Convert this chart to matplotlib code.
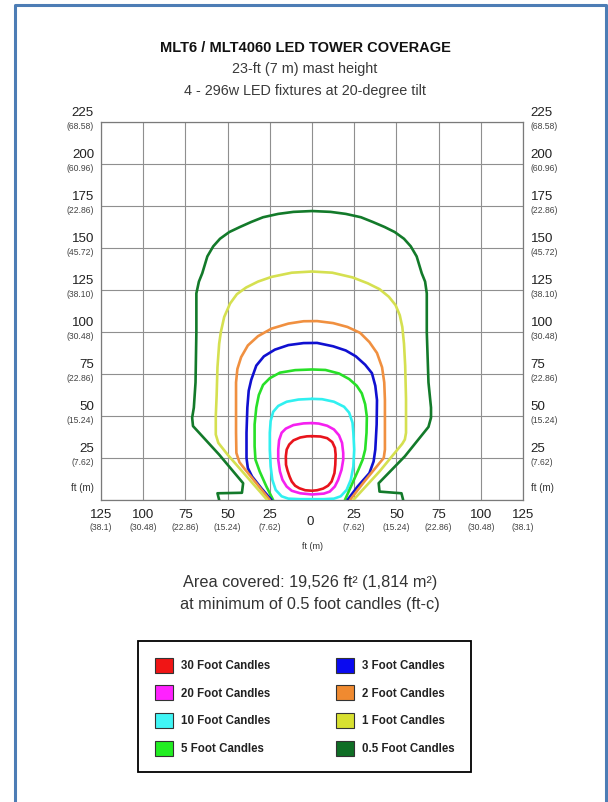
import matplotlib
matplotlib.use("Agg")
import matplotlib.pyplot as plt
from matplotlib.patches import Patch
from matplotlib.lines import Line2D

plt.rcParams['font.family'] = ['Liberation Sans', 'DejaVu Sans']

# ---------------- data (feet) ----------------
levels = ["30 Foot Candles", "20 Foot Candles", "10 Foot Candles", "5 Foot Candles",
          "3 Foot Candles", "2 Foot Candles", "1 Foot Candles", "0.5 Foot Candles"]
line_colors = ["#e8141c", "#f520f0", "#30f0f0", "#28e028",
               "#1010d0", "#f09040", "#d5e050", "#137a2a"]
legend_colors = ["#f01515", "#ff22ff", "#40f5f5", "#22ee22",
                 "#0a0af0", "#f08a30", "#d8e030", "#0f6e25"]

fc30_x = [0, 5, 9, 12, 13.6, 14, 13.8, 13.3, 11.6, 9.5, 6.6, 3, 0, -4, -7.5, -10, -12, -13.3,
          -14.5, -15.4, -15.5, -15, -13.5, -11, -7, -3, 0]
fc30_y = [38, 37.8, 36.8, 34.5, 31, 27, 21, 16, 11, 8.5, 6.8, 5.8, 5.5, 5.8, 7, 8.5, 11, 14,
          17.5, 21, 26, 30, 33, 35.5, 37.2, 37.9, 38]

fc20_x = [0, -5, -11, -15.5, -18, -19.5, -20, -20, -19, -17.5, -15, -12, -7, 0, 7, 10.5, 13.5,
          15.5, 17.5, 18.5, 18.5, 17.8, 16, 13, 9, 4, 0]
fc20_y = [45.8, 45.6, 44.6, 42.5, 40, 35.5, 30, 24, 17, 12, 8, 5.5, 4, 3.3, 3.8, 5, 8,
          12, 18, 24, 28, 34, 38.5, 42, 44.2, 45.5, 45.8]

fc10_x = [0, -8, -15, -20, -23, -24.5, -25, -25, -24.5, -23.5, -21.5, -18, -14, -7, 0, 7, 13,
          17, 20.5, 23, 24.5, 25, 24.5, 24, 22, 19, 13, 6, 0]
fc10_y = [60.2, 59.8, 58.5, 56, 52.5, 47, 40, 30, 20, 12, 6, 2.2, 0.8, 0.5, 0.5, 0.5, 0.8,
          2.2, 6, 12, 20, 30, 40, 46, 52, 55.5, 58.5, 60, 60.2]

fc5_x = [-23, -27, -31, -33.5, -34, -34, -33, -31.5, -29, -25, -19, -10, 0, 8, 16, 22, 26.5,
         29.5, 31.5, 32.5, 32.3, 31.5, 30, 27.5, 19.5]
fc5_y = [0, 8, 17, 24, 32, 45, 55, 62.5, 68.5, 72.5, 75.8, 77.3, 77.7, 77.4, 75.3, 72, 68,
         63.5, 57, 49.5, 40, 30, 24, 18, 0]

fc3_x = [-24, -30, -35.5, -38, -38.8, -38.8, -38.3, -37.5, -36, -33, -28.5, -22, -14, -5, 3,
         12.5, 20, 26, 31.5, 35.5, 37.5, 38.5, 38.3, 37.5, 36.5, 34, 27, 21]
fc3_y = [0, 7, 14, 19, 25, 40, 55, 65, 71.5, 80, 85.5, 89.5, 92.2, 93.4, 93.5,
         91.5, 89, 85.5, 80.5, 75.5, 68, 59.5, 45, 30, 23, 16, 8, 0]

fc2_x = [-25, -33, -39.5, -43, -44.8, -45, -45, -45, -44.2, -42, -38, -32, -24, -14, -5, 3,
         12.5, 21, 28.5, 34, 38.5, 41.5, 42.8, 43.2, 43.2, 42.5, 40, 31, 22.5]
fc2_y = [0, 10, 18, 22.5, 28, 40, 60, 70, 78, 85, 92, 97.5, 102, 105, 106.4, 106.5,
         105.3, 103, 99.5, 94, 87.5, 79, 70, 59.5, 30, 25, 22, 11, 0]

fc1_x = [-26.5, -40, -50, -55.5, -57, -57, -56.5, -56, -55, -54, -52, -48.5, -44.5, -39, -32,
         -24, -12, 0, 12, 24, 33, 40, 45.5, 49.5, 52, 53.5, 54.5, 55.2, 55.7, 55.7, 55, 53.5,
         40, 24.5]
fc1_y = [0, 15.5, 27, 34, 39, 50, 62, 79, 93, 100, 109, 117, 122.5, 126.5, 130,
         132.8, 135.3, 136, 135.3, 132.5, 129, 125.5, 121, 116, 110, 103, 93, 80, 60, 40, 36, 33.5,
         17, 0]

fc05_x = [-55, -56, -41.5, -40.8, -55, -70.5, -71, -70, -69, -68.5, -68.5, -67, -65, -62, -58.5,
          -54.5, -49, -42.7, -36, -29, -20, -11, 0, 11, 20, 29, 36, 43, 49, 54.5, 58.5, 62, 65,
          67, 68, 68, 69, 70.5, 70.5, 69, 55, 39.5, 40, 53, 54]
fc05_y = [0, 4, 4.3, 10, 27, 44, 49, 55, 70, 100, 123, 130, 135, 145, 151,
          155.5, 159.5, 162.5, 165.5, 168.3, 170.3, 171.5, 172, 171.5, 170.3, 168.3, 165.5, 162.5,
          159.5, 155.5, 151, 145, 135, 130, 123, 100, 70, 55, 49, 43.5, 26, 10, 5, 4, 0]

contours_x = [fc30_x, fc20_x, fc10_x, fc5_x, fc3_x, fc2_x, fc1_x, fc05_x]
contours_y = [fc30_y, fc20_y, fc10_y, fc5_y, fc3_y, fc2_y, fc1_y, fc05_y]

x_ticks = [-125, -100, -75, -50, -25, 0, 25, 50, 75, 100, 125]
x_tick_ft = ["125", "100", "75", "50", "25", "0", "25", "50", "75", "100", "125"]
x_tick_m = ["(38.1)", "(30.48)", "(22.86)", "(15.24)", "(7.62)", "", "(7.62)", "(15.24)",
            "(22.86)", "(30.48)", "(38.1)"]
y_ticks = [25, 50, 75, 100, 125, 150, 175, 200, 225]
y_tick_ft = ["25", "50", "75", "100", "125", "150", "175", "200", "225"]
y_tick_m = ["(7.62)", "(15.24)", "(22.86)", "(30.48)", "(38.10)", "(45.72)", "(22.86)",
            "(60.96)", "(68.58)"]

title = "MLT6 / MLT4060 LED TOWER COVERAGE"
subtitle1 = "23-ft (7 m) mast height"
subtitle2 = "4 - 296w LED fixtures at 20-degree tilt"
note1 = "Area covered: 19,526 ft² (1,814 m²)"
note2 = "at minimum of 0.5 foot candles (ft-c)"

# ---------------- figure ----------------
W, H = 608, 802
fig = plt.figure(figsize=(W / 100, H / 100), dpi=100)
fig.patch.set_facecolor("white")

# blue frame
frame_col = "#4d7db5"
fig.add_artist(Line2D([15 / W, 15 / W, 606 / W, 606 / W], [0, 1 - 5 / H, 1 - 5 / H, 0],
                      transform=fig.transFigure, color=frame_col, lw=2.2))

ax = fig.add_axes([101 / W, 1 - 500 / H, 422 / W, 378 / H])
ax.set_xlim(-125, 125)
ax.set_ylim(0, 225)
ax.set_xticks(x_ticks)
ax.set_yticks([0] + y_ticks)
ax.tick_params(length=0, labelbottom=False, labelleft=False)
ax.grid(True, color="#8f8f8f", lw=0.8)
for s in ax.spines.values():
    s.set_color("#7a7a7a")
    s.set_linewidth(0.9)

for xs, ys, c in zip(contours_x, contours_y, line_colors):
    ax.plot(xs, ys, color=c, lw=1.9, solid_joinstyle="round", solid_capstyle="round",
            clip_on=True, zorder=3)

# y labels (both sides)
for v, a, b in zip(y_ticks, y_tick_ft, y_tick_m):
    for xf, ha, dx in ((0, "right", -5), (1, "left", 5.5)):
        ax.annotate(a, xy=(xf, v), xycoords=("axes fraction", "data"), xytext=(dx, 6.3),
                    textcoords="offset points", ha=ha, va="center", fontsize=9.6, color="#222222")
        ax.annotate(b, xy=(xf, v), xycoords=("axes fraction", "data"), xytext=(dx, -3.0),
                    textcoords="offset points", ha=ha, va="center", fontsize=6.2, color="#444444")
for xf, ha, dx in ((0, "right", -5), (1, "left", 5.5)):
    ax.annotate("ft (m)", xy=(xf, 0), xycoords=("axes fraction", "data"), xytext=(dx, 8.9),
                textcoords="offset points", ha=ha, va="center", fontsize=7.0, color="#333333")

# x labels
for v, a, b in zip(x_ticks, x_tick_ft, x_tick_m):
    if b:
        ax.annotate(a, xy=(v, 0), xycoords=("data", "axes fraction"), xytext=(0, -10.8),
                    textcoords="offset points", ha="center", va="center", fontsize=9.6, color="#222222")
        ax.annotate(b, xy=(v, 0), xycoords=("data", "axes fraction"), xytext=(0, -19.9),
                    textcoords="offset points", ha="center", va="center", fontsize=6.2, color="#444444")
    else:
        ax.annotate(a, xy=(v, 0), xycoords=("data", "axes fraction"), xytext=(-1.5, -15.5),
                    textcoords="offset points", ha="center", va="center", fontsize=9.6, color="#222222")
ax.annotate("ft (m)", xy=(0, 0), xycoords=("data", "axes fraction"), xytext=(0, -33.5),
            textcoords="offset points", ha="center", va="center", fontsize=6.5, color="#333333")

# titles
fig.text(305 / W, 1 - 47.5 / H, title, ha="center", va="center", fontsize=10.5,
         fontweight="bold", color="#111111")
fig.text(305 / W, 1 - 69.5 / H, subtitle1, ha="center", va="center", fontsize=10.4, color="#3a3a3a")
fig.text(305 / W, 1 - 91.5 / H, subtitle2, ha="center", va="center", fontsize=10.4, color="#3a3a3a")

fig.text(310 / W, 1 - 583 / H, note1, ha="center", va="center", fontsize=11.7, color="#333333")
fig.text(310 / W, 1 - 605 / H, note2, ha="center", va="center", fontsize=11.7, color="#333333")

# legend
handles = [Patch(facecolor=c, edgecolor="#333333", linewidth=0.8) for c in legend_colors]
leg = fig.legend(handles, levels, ncol=2, loc="upper left",
                 bbox_to_anchor=(138 / W, 1 - 641 / H), bbox_transform=fig.transFigure,
                 frameon=True, fancybox=False, edgecolor="black", framealpha=1,
                 prop=dict(family="Liberation Sans", weight="bold", size=8.3),
                 handlelength=1.6, handleheight=1.6, handletextpad=0.65,
                 columnspacing=5.7, labelspacing=1.12, borderpad=1.45, borderaxespad=0)
leg.get_frame().set_linewidth(1.3)
for t in leg.get_texts():
    t.set_color("#222222")

fig.savefig("out.png", dpi=100, facecolor="white")
